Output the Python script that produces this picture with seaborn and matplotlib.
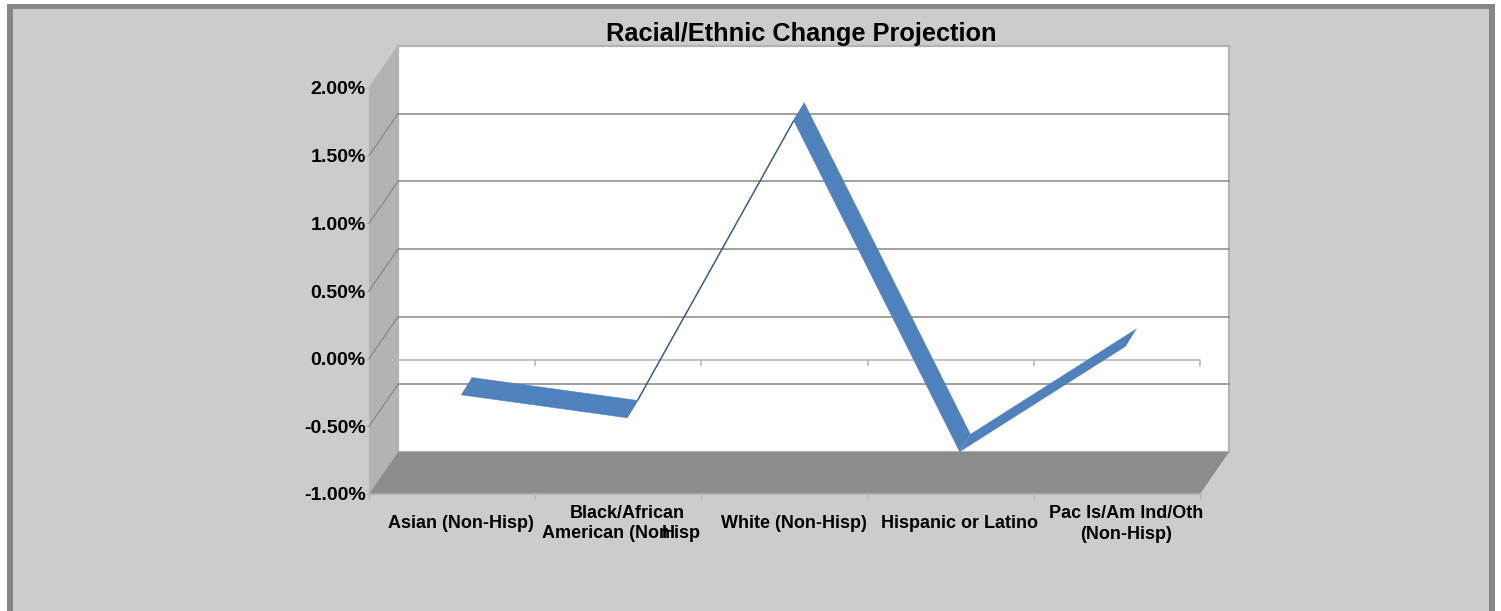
import matplotlib
matplotlib.use('Agg')
import matplotlib.pyplot as plt
from matplotlib.patches import Polygon, Rectangle
import numpy as np
import pandas as pd
import seaborn as sns

# values
categories = ['Asian (Non-Hisp)', 'Black/African American (Non-Hisp', 'White (Non-Hisp)',
              'Hispanic or Latino', 'Pac Is/Am Ind/Oth (Non-Hisp)']
tick_labels = ['Asian (Non-Hisp)', 'Black/African\n ', 'White (Non-Hisp)',
               'Hispanic or Latino', 'Pac Is/Am Ind/Oth\n(Non-Hisp)']
change_pct = [-0.36, -0.53, 1.67, -0.78, 0.0]
y_ticks = [-1.0, -0.5, 0.0, 0.5, 1.0, 1.5, 2.0]

W, H = 1501, 611
BG = '#cccccc'
FRAME = '#868686'
WALL = '#b3b3b3'
FLOOR = '#8c8c8c'
GRID = '#868686'
BLUE = '#4f81bd'
DARK = '#2c4f7c'

# fake 3d depth in data units (29 px right, 42 px up for the whole depth)
DEPTH_X = 29 / 166.2
DEPTH_Y = 42 / 135.33
RIBBON_X = (0.31, 0.68)
RIBBON_Y = (0.30, 0.71)

sns.set_theme(style='white')
plt.rcParams['font.family'] = ['Liberation Sans', 'DejaVu Sans']
plt.rcParams['font.weight'] = 'bold'

fig = plt.figure(figsize=(W / 100, H / 100), dpi=100, facecolor='white')
fig.patches.append(Rectangle((7 / W, 0), 1488 / W, 1 - 4 / H, transform=fig.transFigure, fc=FRAME, ec='none', zorder=-2))
fig.patches.append(Rectangle((13 / W, 0), 1476 / W, 1 - 9 / H, transform=fig.transFigure, fc=BG, ec='none', zorder=-1))

ax = fig.add_axes([369 / W, (H - 494) / H, 831 / W, 406 / H])
ax.patch.set_visible(False)
for spine in ax.spines.values():
    spine.set_visible(False)

x_min, x_max = -0.5, 4.5
y_min, y_max = -1.0, 2.0
x_back = x_min + DEPTH_X
x_back_r = x_max + DEPTH_X

# walls
ax.add_patch(Polygon([(x_back, y_min + DEPTH_Y), (x_back_r, y_min + DEPTH_Y), (x_back_r, y_max + DEPTH_Y), (x_back, y_max + DEPTH_Y)],
                     fc='white', ec=WALL, lw=1.6, clip_on=False, zorder=1))
ax.add_patch(Polygon([(x_min, y_min), (x_back, y_min + DEPTH_Y), (x_back, y_max + DEPTH_Y), (x_min, y_max)],
                     fc=WALL, ec='none', clip_on=False, zorder=1.5))
ax.add_patch(Polygon([(x_min, y_min), (x_max, y_min), (x_back_r, y_min + DEPTH_Y), (x_back, y_min + DEPTH_Y)],
                     fc=FLOOR, ec='none', clip_on=False, zorder=1.6))

# gridlines, back wall and the diagonals on the side wall
for tick in y_ticks[1:]:
    colour = WALL if tick == y_ticks[-1] else GRID
    if tick != y_ticks[-1]:
        ax.plot([x_back, x_back_r], [tick + DEPTH_Y] * 2, color=colour, lw=1.1, clip_on=False, zorder=2)
    ax.plot([x_min, x_back], [tick, tick + DEPTH_Y], color=colour, lw=0.9, clip_on=False, zorder=2)

# category axis at zero, plus its ticks
axis_y = -0.012
boundaries = np.arange(x_min, x_max + 1)
ax.plot([x_back, x_max], [axis_y, axis_y], color=WALL, lw=1.1, clip_on=False, zorder=2)
ax.vlines(boundaries[1:], axis_y - 0.044, axis_y, color=WALL, lw=1.1, clip_on=False, zorder=2)
ax.plot([x_min, x_max], [y_min, y_min], color=WALL, lw=1.1, clip_on=False, zorder=2)

# the ribbon, one segment at a time; the rising one is seen nearly edge-on
positions = np.arange(len(categories))
values = np.array(change_pct)
seg_order = [1, 0, 2, 3]
for i in seg_order:
    colour = DARK if i == 1 else BLUE
    xs = positions[i:i + 2]
    ys = values[i:i + 2]
    front = pd.DataFrame({'x': xs + RIBBON_X[0] * DEPTH_X, 'y': ys + RIBBON_Y[0] * DEPTH_Y})
    back = pd.DataFrame({'x': xs + RIBBON_X[1] * DEPTH_X, 'y': ys + RIBBON_Y[1] * DEPTH_Y})
    ax.fill(np.r_[front['x'], back['x'][::-1]], np.r_[front['y'], back['y'][::-1]],
            color=colour, lw=0, clip_on=False, zorder=3)
    for edge in (front, back):
        sns.lineplot(data=edge, x='x', y='y', ax=ax, color=colour, lw=0.4 if i != 1 else 0.3,
                     errorbar=None, sort=False, legend=False, clip_on=False, zorder=3)

ax.set_xlim(x_min, x_max)
ax.set_ylim(y_min, y_max)
ax.set_xlabel('')
ax.set_ylabel('')

ax.set_yticks(y_ticks)
ax.set_yticklabels([f'{t:.2f}%' for t in y_ticks], fontsize=14, fontweight='bold', color='black')
ax.tick_params(axis='y', which='major', left=True, length=2.2, width=0.8, color=WALL, pad=0.2)

ax.set_xticks(positions + RIBBON_X[0] * DEPTH_X)
ax.set_xticklabels(tick_labels, fontsize=13, fontweight='bold', color='black', linespacing=1.3)
ax.set_xticks(boundaries, minor=True)
ax.tick_params(axis='x', which='major', bottom=False, length=0, pad=21.5)
ax.tick_params(axis='x', which='minor', bottom=True, length=4.3, width=1, color=WALL)
for label in ax.get_xticklabels():
    label.set_va('center')

# second line of the Black/African label runs into itself in the source
ax.annotate('American (Non', xy=(542 / W, (H - 533) / H), xycoords='figure fraction', ha='left', va='center',
            fontsize=13, fontweight='bold', color='black')
ax.annotate('Hisp', xy=(701 / W, (H - 533) / H), xycoords='figure fraction', ha='right', va='center',
            fontsize=13, fontweight='bold', color='black')

fig.text(801 / W, 1 - 34 / H, 'Racial/Ethnic Change Projection', ha='center', va='center',
         fontsize=18.3, fontweight='bold', color='black')

fig.savefig('out.png', dpi=100, facecolor=fig.get_facecolor())
